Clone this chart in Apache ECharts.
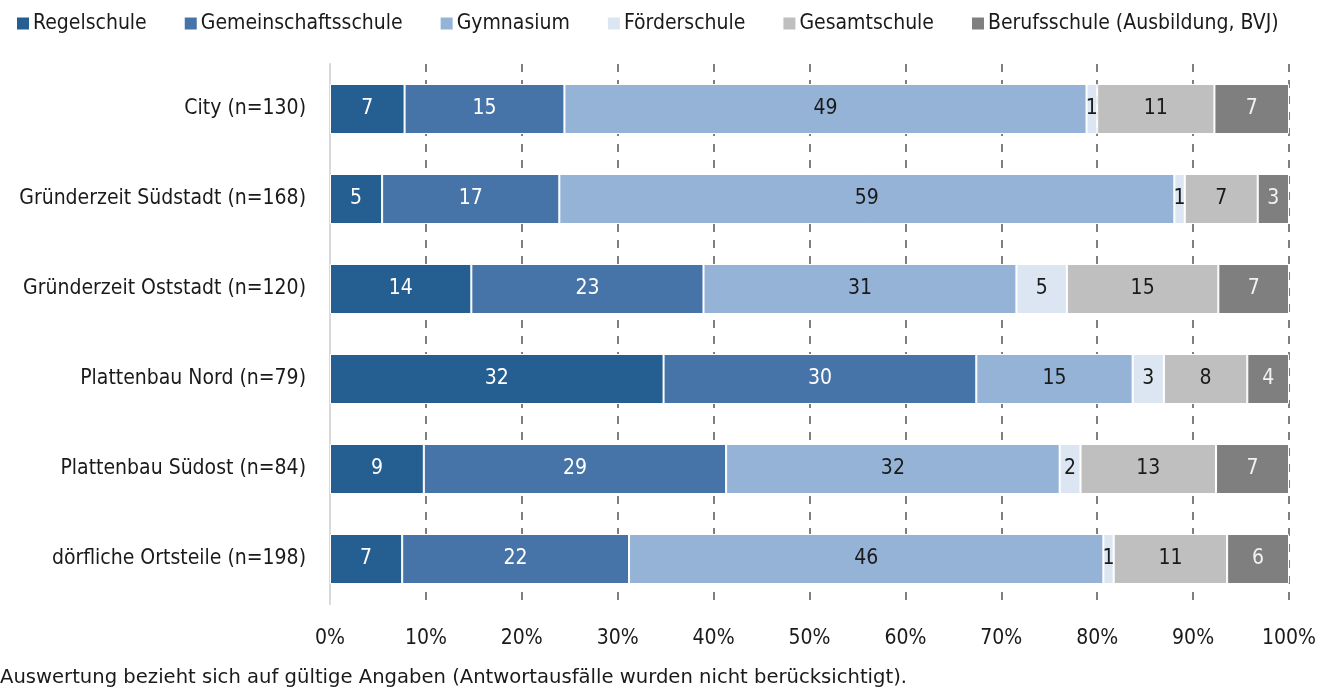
<!DOCTYPE html>
<html>
<head>
<meta charset="utf-8">
<title>Schulformen nach Stadtteil</title>
<script src="https://cdn.jsdelivr.net/npm/echarts@6/dist/echarts.min.js"></script>
<style>
  html, body { margin: 0; padding: 0; background: #fff; }
  #chart { width: 1327px; height: 691px; }
</style>
</head>
<body>
<div id="chart"></div>
<script>
// Stadtteile (von oben nach unten)
const categories = [
  'City (n=130)',
  'Gründerzeit Südstadt (n=168)',
  'Gründerzeit Oststadt (n=120)',
  'Plattenbau Nord (n=79)',
  'Plattenbau Südost (n=84)',
  'dörfliche Ortsteile (n=198)'
]

// Werte je Schulform (Beschriftung der Balken)
const regelschule = [7, 5, 14, 32, 9, 7]
const gemeinschaftsschule = [15, 17, 23, 30, 29, 22]
const gymnasium = [49, 59, 31, 15, 32, 46]
const foerderschule = [1, 1, 5, 3, 2, 1]
const gesamtschule = [11, 7, 15, 8, 13, 11]
const berufsschule = [7, 3, 7, 4, 7, 6]

const xTicks = ['0%', '10%', '20%', '30%', '40%', '50%', '60%', '70%', '80%', '90%', '100%']

const font = '"Liberation Sans Narrow", "DejaVu Sans Condensed", sans-serif'

const seriesDefs = [
  { name: 'Regelschule', data: regelschule, color: '#255e91', label: '#ffffff' },
  { name: 'Gemeinschaftsschule', data: gemeinschaftsschule, color: '#4674a9', label: '#ffffff' },
  { name: 'Gymnasium', data: gymnasium, color: '#95b3d7', label: '#1a1a1a' },
  { name: 'Förderschule', data: foerderschule, color: '#dce6f2', label: '#1a1a1a' },
  { name: 'Gesamtschule', data: gesamtschule, color: '#bfbfbf', label: '#1a1a1a' },
  { name: 'Berufsschule (Ausbildung, BVJ)', data: berufsschule, color: '#7f7f7f', label: '#f2f2f2' }
]

// Zeilensummen fuer 100%-Darstellung
const totals = categories.map((c, i) => seriesDefs.reduce((s, d) => s + d.data[i], 0))

const chart = echarts.init(document.getElementById('chart'))

const option = {
  animation: false,
  textStyle: { fontFamily: font },
  legend: {
    top: 8,
    left: 10,
    itemWidth: 14,
    itemHeight: 14,
    itemGap: 36,
    icon: 'rect',
    textStyle: { fontFamily: font, fontSize: 21, color: '#1a1a1a', padding: [0, 0, 0, -2] },
    data: seriesDefs.map(d => d.name)
  },
  grid: {
    left: 330,
    right: 38,
    top: 64,
    bottom: 87,
    containLabel: false
  },
  xAxis: {
    type: 'value',
    min: 0,
    max: 100,
    interval: 10,
    axisLine: { show: false },
    axisTick: { show: false },
    axisLabel: {
      fontFamily: font,
      fontSize: 21,
      color: '#1a1a1a',
      margin: 24,
      formatter: v => xTicks[Math.round(v / 10)]
    },
    splitLine: {
      show: true,
      lineStyle: { color: '#7f7f7f', width: 2, type: [8, 8] }
    }
  },
  yAxis: {
    type: 'category',
    inverse: true,
    data: categories,
    axisLine: { show: true, lineStyle: { color: '#d9d9d9', width: 2 } },
    axisTick: { show: false },
    axisLabel: {
      fontFamily: font,
      fontSize: 21,
      color: '#1a1a1a',
      margin: 24
    }
  },
  series: seriesDefs.map(d => ({
    name: d.name,
    type: 'bar',
    stack: 'total',
    barWidth: 50,
    itemStyle: { color: d.color, borderColor: '#ffffff', borderWidth: 1 },
    label: {
      show: true,
      position: 'inside',
      fontFamily: font,
      fontSize: 21,
      color: d.label,
      formatter: p => String(d.data[p.dataIndex])
    },
    data: d.data.map((v, i) => v / totals[i] * 100)
  })),
  graphic: [{
    type: 'text',
    left: 0,
    top: 668,
    style: {
      text: 'Auswertung bezieht sich auf gültige Angaben (Antwortausfälle wurden nicht berücksichtigt).',
      fontFamily: '"DejaVu Sans", sans-serif',
      fontSize: 19.6,
      fill: '#1a1a1a'
    }
  }]
}

chart.setOption(option)
window.addEventListener('resize', () => chart.resize())
</script>
</body>
</html>
